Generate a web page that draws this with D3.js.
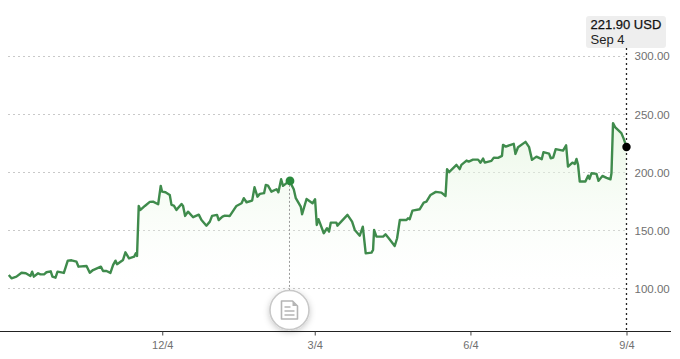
<!DOCTYPE html>
<html><head><meta charset="utf-8">
<script src="https://cdn.jsdelivr.net/npm/d3@7/dist/d3.min.js"></script>
<style>html,body{margin:0;padding:0;background:#fff}svg{display:block}text{font-family:"Liberation Sans",Arial,sans-serif}</style>
</head><body><svg id="c" width="680" height="359"></svg>
<script>
const sessions = [3.5,5.1,8,11,13.5,16.2,17.2,18.2,20.7,22.1,24.2,25.6,28.1,29.1,30.9,32.1,35.8,38.1,40.3,43.2,44.4,49.1,51,52.9,57.5,58.8,60.8,63.1,64.7,66.1,67,70.5,71.9,74,77,78,78.7,79.7,80.7,83.3,86.2,88.1,91.1,92.6,93.4,95.4,97.9,98.9,100.3,101.8,104.8,105.7,106.9,108.6,111.6,114.9,116.5,119.4,121.4,122.7,125.6,126.6,128.8,130.2,133.1,137,140,141.3,142.9,146.2,147.6,149.3,150.7,153.2,154.2,155.5,157.5,160.5,161.6,163.2,164.3,168.1,170.6,171.8,174.7,175.5,178.1,181.6,183.1,184.1,185.1,188.2,190.1,191.3,192.3,195.6,196.2,202.1,204.8,206.4,209.3,211.1,212.8,216.2,217.1,217.7,219.1,223,224.4,226.3,229.8,231.2,232.8,236.7,237.6,238.6,240.2,244.5,246.8,248.4,250.8,253.9,257.2,259.6,260.5,261.7,266,267.9,268.9,271.9,273.2,275.7,278.7,280.1,281.6,282.6,286.5,287.9,290.4,292.7,293.3,294.9,299.6,300.6,302.1,306.5,308.6,310.3,312.9,316,317,320.3,321.3,322.7,324.2,328.5,330.3,331.4,334,335.4,336.4,337.3,338.3,341.6,343.2,344,345.2,348.1,349.3,351.6,354,356.3,356.9,357.8,359,362.7,364.1,365.7];
const prices = [111.6,108.8,110.2,113.6,113.1,110.8,114.5,110.2,113.1,112.2,112.2,114,114.8,110.2,109.3,114.5,113.4,124,124.3,123.1,118.8,119.4,113.6,115.9,118.8,115.1,115.1,113.4,120.3,124,120.9,124.6,131.2,126,127.4,130.3,128,171.1,167.7,171.1,174.6,174.8,172.6,188.4,183.4,182.9,180.6,172,171.4,167.7,172.8,171.1,162.5,166.2,161.4,163.6,159,154.1,157.6,162.5,163.4,159,161.9,162.8,162.5,171.1,173.4,177.8,174.3,175.7,187.2,179.1,181.5,182.1,189.2,188.6,183.4,185.5,182.9,194.1,188.4,192.7,185.5,177.8,170.5,164,177.1,173.4,176.9,154.7,159.7,147.6,151.9,149,156.7,156.7,154.1,163.4,157.6,150.4,145.5,153.3,130.3,130.9,133.2,150.4,144.7,144.7,146.7,143.3,136.6,143.3,159,159,160.5,159.7,167.1,168.3,174,174.8,180.6,183.2,182.6,179.7,202.8,200.2,206.5,202.8,206.5,210.2,209.3,211,211,208.4,211.9,208.4,209.9,212.7,212.5,214.2,223.7,222.2,224.6,215.9,221.7,226.3,221.7,210.8,213.6,211.4,217.4,216.2,212.2,212.7,220,218.8,223.4,205,208.4,207.3,211.6,206.5,192.1,192.1,197.2,194.4,199.3,198.7,192.7,197,195.3,194.1,199.3,242.4,239,233.8,228.9,221.9];
const yTicks = [100,150,200,250,300];
const xTicks = [93.5,182.9,274.2,365.7];
const xLabels = ["12/4","3/4","6/4","9/4"];
const eventIndex = 81;
const lastLabel = "221.90 USD", lastDate = "Sep 4";

const data = sessions.map((s,i)=>({s,v:prices[i]}));
const svg = d3.select("#c");
const x = d3.scaleLinear().domain([0,366]).range([2.8,627]);
const y = d3.scaleLinear().domain([100,300]).range([288.5,56.3]);
const axisY = 331.5;
const endX = x(xTicks[3]);

const defs = svg.append("defs");
const g = defs.append("linearGradient").attr("id","fade").attr("x1",0).attr("x2",0)
  .attr("gradientUnits","userSpaceOnUse").attr("y1",y(242)).attr("y2",axisY-50);
g.append("stop").attr("offset",0).attr("stop-color","#e4f5df").attr("stop-opacity",.75);
g.append("stop").attr("offset",1).attr("stop-color","#f4fbf2").attr("stop-opacity",0);
const sh = defs.append("filter").attr("id","sh").attr("x","-30%").attr("y","-30%").attr("width","160%").attr("height","170%");
sh.append("feDropShadow").attr("dx",0).attr("dy",2).attr("stdDeviation",3).attr("flood-color","#000").attr("flood-opacity",.22);

svg.append("g").selectAll("line").data(yTicks).join("line")
  .attr("x1",8).attr("x2",endX).attr("y1",d=>Math.floor(y(d))+.5).attr("y2",d=>Math.floor(y(d))+.5)
  .attr("stroke","#c9c9c9").attr("stroke-dasharray","2 3");

svg.append("path").datum(data).attr("fill","url(#fade)")
  .attr("d",d3.area().x(d=>x(d.s)).y1(d=>y(d.v)).y0(axisY));
svg.append("path").datum(data).attr("fill","none").attr("stroke","#3f8b4c").attr("stroke-width",2.4).attr("stroke-linejoin","round")
  .attr("d",d3.line().x(d=>x(d.s)).y(d=>y(d.v)));

const ev = data[eventIndex], last = data[data.length-1];
svg.append("line").attr("x1",x(ev.s)).attr("x2",x(ev.s)).attr("y1",y(ev.v)).attr("y2",291)
  .attr("stroke","#999").attr("stroke-dasharray","2 2");
svg.append("line").attr("x1",endX).attr("x2",endX).attr("y1",48).attr("y2",axisY)
  .attr("stroke","#222").attr("stroke-width",1.3).attr("stroke-dasharray","2 3");

const ax = svg.append("g").attr("transform",`translate(0,${axisY})`)
  .call(d3.axisBottom(x).tickValues(xTicks).tickFormat((d,i)=>xLabels[i]).tickSize(4).tickPadding(6));
ax.select(".domain").remove();
ax.insert("line",":first-child").attr("x1",0).attr("x2",671).attr("stroke","#222").attr("stroke-width",1.2);
ax.selectAll(".tick line").attr("stroke","#444");
ax.selectAll("text").attr("font-size",11).attr("fill","#707070").attr("font-family",'"Liberation Sans",Arial,sans-serif');

const ay = svg.append("g").attr("transform","translate(634.5,0)")
  .call(d3.axisRight(y).tickValues(yTicks).tickFormat(d3.format(".2f")).tickSize(0).tickPadding(0));
ay.select(".domain").remove();
ay.selectAll("text").attr("font-size",11.5).attr("fill","#707070").attr("font-family",'"Liberation Sans",Arial,sans-serif');

svg.append("circle").attr("cx",x(ev.s)+.5).attr("cy",y(ev.v)).attr("r",4.4).attr("fill","#2b8a3e");
svg.append("circle").attr("cx",endX).attr("cy",y(last.v)).attr("r",4.2).attr("fill","#000");

const cx = x(ev.s), cy = 310;
svg.append("circle").attr("cx",cx).attr("cy",cy).attr("r",19.5).attr("fill","#fff").attr("stroke","#c8c8c8").attr("stroke-width",1.6).attr("filter","url(#sh)");
const ic = svg.append("g").attr("transform",`translate(${cx},${cy})`);
ic.append("path").attr("d","M-8-9H3L8-4V9H-8Z").attr("fill","#fff").attr("stroke","#b5b5b5").attr("stroke-width",1.6).attr("stroke-linejoin","round");
ic.append("path").attr("d","M3-9V-4H8Z").attr("fill","#b5b5b5");
ic.append("path").attr("d","M-5-3H1M-5 1H5M-5 5H5").attr("stroke","#b5b5b5").attr("stroke-width",1.5).attr("fill","none");

svg.append("rect").attr("x",586).attr("y",16).attr("width",80).attr("height",32).attr("rx",3).attr("fill","#eeeeee");
svg.append("text").attr("x",590.5).attr("y",29).attr("font-size",13).attr("fill","#111").attr("stroke","#111").attr("stroke-width",.25).text(lastLabel);
svg.append("text").attr("x",590.5).attr("y",44).attr("font-size",13).attr("fill","#222").text(lastDate);
</script></body></html>
